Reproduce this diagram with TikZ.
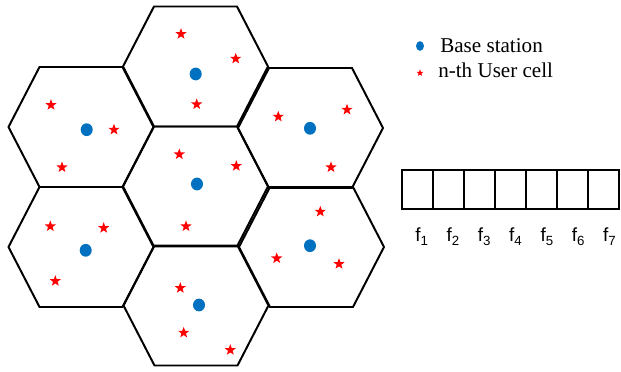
\documentclass[tikz,border=0pt]{standalone}
\usepackage{fontspec}
\setmainfont{Liberation Serif}
\newfontfamily\arialfont{Liberation Sans}
\usetikzlibrary{shapes.geometric}
\definecolor{bsblue}{HTML}{0070C0}

\begin{document}
\begin{tikzpicture}[x=0.025cm,y=-0.025cm,
  cell/.style={draw,line width=1.4pt,line join=miter},
  bs/.style={ellipse,fill=bsblue,inner sep=0pt,minimum width=3mm,minimum height=3.2mm},
  usr/.style={star,star points=5,star point ratio=2.4,fill=red,inner sep=0pt,minimum size=2.9mm},
  lgd/.style={font=\fontsize{15}{17}\selectfont,anchor=base west,inner sep=0pt},
  fbox/.style={draw,line width=1.4pt,minimum width=7.75mm,minimum height=9.75mm,inner sep=0pt},
  flbl/.style={font=\arialfont\fontsize{13.5}{15}\selectfont,anchor=base,inner sep=0pt}]

\useasboundingbox (0,0) rectangle (621,372);

% cells
\foreach \n/\cx/\cy in {top/195.5/66.5, mid/195.5/186.5, lu/81/127, ll/81/247,
                        bot/196/305.5, ru/310.5/128, rl/311.5/247}
  \draw[cell] (\cx,\cy) coordinate (c-\n) ++(-72.5,0) -- ++(31,-60) -- ++(83,0)
    -- ++(31,60) -- ++(-31,60) -- ++(-83,0) -- cycle;

% base stations
\foreach \n/\x/\y in {top/195.7/74, lu/86.7/129.7, mid/197/184, ru/310/128.3,
                      ll/85.7/250.3, rl/310/245.7, bot/199/305}
  \node[bs] (bs-\n) at (\x,\y) {};

% users
\foreach \x/\y [count=\k] in {181/34, 235.7/58.7, 196.7/104.3,
    51/105, 114/129.7, 62/167.3,
    179.3/154.3, 236.3/166, 186/226.3,
    278.3/116.7, 347/109.7, 331/167.3,
    50.3/226.3, 103.7/228, 55.3/281,
    320.3/211.7, 276.7/258.3, 339/264,
    180.3/288, 183.7/332.7, 230.3/350}
  \node[usr] (u\k) at (\x,\y) {};

% legend
\node[bs,minimum width=2mm,minimum height=2.4mm] (lgd-bs) at (420,46) {};
\node[lgd] (lgd-bs-txt) at (440,53) {Base station};
\node[usr,minimum size=1.8mm] (lgd-usr) at (420,73) {};
\node[lgd] (lgd-usr-txt) at (438,78) {n-th User cell};

% frequency slots
\foreach \i in {1,...,7} {
  \node[fbox] (f\i) at (417.5+\i*31-31,189.5) {};
  \node[flbl] (fl\i) at (422+\i*31.3-31.3,242) {f\textsubscript{\i}};
}
\end{tikzpicture}
\end{document}
